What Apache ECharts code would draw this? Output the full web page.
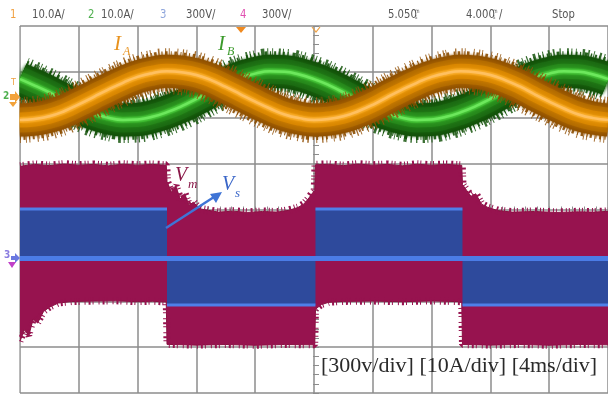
<!DOCTYPE html>
<html>
<head>
<meta charset="utf-8">
<script src="https://cdn.jsdelivr.net/npm/echarts/dist/echarts.min.js"></script>
<style>
  html, body { margin: 0; padding: 0; background: #fff; }
  #scope { width: 608px; height: 397px; }
</style>
</head>
<body>
<div id="scope"></div>
<script>
// ---- sampled traces (time in ms, 4 ms/div) ----
const timeMs = [0,1,2,3,4,5,6,7,8,9,10,11,12,13,14,15,16,17,18,19,20,
                21,22,23,24,25,26,27,28,29,30,31,32,33,34,35,36,37,38,39,40];

// phase currents, centre of the ripple band (A)
const iA = [-5.0,-4.8,-4.2,-3.1,-1.6,0.0,1.6,3.1,4.4,5.2,5.6,5.4,4.8,3.7,2.2,0.6,-1.0,-2.5,-3.8,-4.6,-5.0,
            -4.8,-4.2,-3.1,-1.7,0.0,1.6,3.1,4.4,5.2,5.6,5.4,4.8,3.7,2.3,0.6,-1.0,-2.5,-3.8,-4.6,-5.0];
const iB = [3.9,2.5,1.0,-0.7,-2.2,-3.6,-4.5,-5.0,-4.9,-4.3,-3.3,-2.0,-0.4,1.3,2.9,4.2,5.1,5.6,5.5,4.9,3.9,
            2.6,1.0,-0.7,-2.3,-3.6,-4.5,-5.0,-4.9,-4.3,-3.3,-2.0,-0.4,1.3,2.8,4.2,5.1,5.6,5.5,4.9,3.9];

// Vm PWM envelope (V): upper and lower edges of the switching band
const vmUpper = [[0,600],[1,612],[2,604],[3,614],[4,607],[5,612],[6,603],[7,613],[8,607],[9,612],[9.95,606],
  [10.0,500],[10.3,430],[10.6,470],[10.9,385],[11.2,420],[11.5,345],[11.8,365],[12.2,322],[12.8,312],
  [13.5,300],[14.5,306],[15.5,298],[16.5,304],[17.5,300],[18.3,312],[18.9,330],[19.3,352],[19.6,385],[19.9,425],[20.05,440],
  [20.1,610],[21,612],[22,604],[23,614],[24,607],[25,612],[26,603],[27,613],[28,607],[29,612],[30.05,606],
  [30.1,480],[30.4,440],[30.7,400],[31.0,420],[31.4,352],[31.8,332],[32.5,310],[33.5,300],[35,304],
  [36.5,298],[38,302],[39,300],[40,305]];
const vmLower = [[0,-545],[0.3,-470],[0.6,-505],[0.9,-400],[1.2,-425],[1.6,-350],[2.0,-322],[2.6,-295],
  [3.5,-285],[5,-282],[6.5,-280],[8,-286],[9,-283],[9.95,-288],
  [10.0,-565],[12,-570],[14,-566],[16,-571],[18,-566],[20.05,-568],
  [20.1,-335],[20.5,-305],[21,-290],[22,-284],[24,-282],[26,-286],[28,-281],[30.05,-286],
  [30.1,-566],[32,-570],[34,-566],[36,-571],[38,-566],[40,-568]];

// Vs switching levels (V); '-' separates the half cycles
const vsLevel = [[0,320],[10.0,320],[10.0,'-'],[10.0,-307],[20.1,-307],[20.1,'-'],
  [20.1,320],[30.1,320],[30.1,'-'],[30.1,-307],[40,-307]];

// scope header: channel numbers and their scales
const chNames  = ['1','2','3','4'];
const chScales = ['10.0A/','10.0A/','300V/','300V/'];
const timeHeader = ['5.050', '4.000'];

const chart = echarts.init(document.getElementById('scope'), null, { renderer: 'canvas' });

const gridGray = '#8c8c8c';
const hidden = { show: false };
const vmColor = '#97134f';

// one trace drawn as stacked strokes: ripple fringe, dark body, core glow
function band(data, yIdx, layers, zBase) {
  return layers.map((l, k) => ({
    type: 'line', data: data, yAxisIndex: yIdx, smooth: true, showSymbol: false, silent: true,
    z: zBase + k,
    lineStyle: {
      width: l.w, color: l.c, cap: 'butt', opacity: l.o == null ? 1 : l.o,
      type: l.dash || 'solid', shadowBlur: l.b || 0, shadowColor: l.c
    }
  }));
}

// switching ripple along an envelope edge
function fringe(data, width, dash) {
  return { type: 'line', data: data, yAxisIndex: 2, showSymbol: false, silent: true, z: 3,
    lineStyle: { width: width, color: vmColor, cap: 'butt', type: dash } };
}

const iAData = timeMs.map((t, i) => [t, iA[i]]);
const iBData = timeMs.map((t, i) => [t, iB[i]]);

const orangeLayers = [
  { w: 46, c: '#94530a', dash: [1, 4, 1, 2, 1, 6], o: 0.85 },
  { w: 40, c: '#8a4c00', dash: [1, 2, 2, 3], o: 0.9 },
  { w: 33, c: '#8f5000', b: 3 },
  { w: 25, c: '#b06a00', b: 5 },
  { w: 15, c: '#d88600', b: 6 },
  { w: 6, c: '#f3a010', b: 5 },
  { w: 2.5, c: '#ffc060', b: 3 }
];
const greenLayers = [
  { w: 46, c: '#17560e', dash: [1, 3, 1, 5, 2, 2], o: 0.85 },
  { w: 40, c: '#145209', dash: [2, 2, 1, 3], o: 0.9 },
  { w: 33, c: '#135009', b: 3 },
  { w: 25, c: '#1b6812', b: 5 },
  { w: 15, c: '#26861b', b: 6 },
  { w: 6, c: '#35b028', b: 5 },
  { w: 2.5, c: '#6ce85c', b: 3 }
];

const option = {
  animation: false,
  backgroundColor: '#ffffff',
  grid: { left: 20, top: 26, right: -4, bottom: 4 },
  xAxis: [
    { type: 'value', min: 0, max: 40, interval: 4,
      axisLine: hidden, axisTick: hidden, axisLabel: hidden,
      splitLine: { show: true, lineStyle: { color: gridGray, width: 1.5 } } },
    // tick rows on the horizontal centre line
    { type: 'value', min: 0, max: 40, interval: 4, position: 'bottom', offset: -183.5,
      axisLine: hidden, axisLabel: hidden, splitLine: hidden,
      axisTick: { show: true, inside: true, length: 3, lineStyle: { color: gridGray } },
      minorTick: { show: true, splitNumber: 5, length: 3, lineStyle: { color: gridGray } } },
    { type: 'value', min: 0, max: 40, interval: 4, position: 'bottom', offset: -183.5,
      axisLine: hidden, axisLabel: hidden, splitLine: hidden,
      axisTick: { show: true, inside: false, length: 3, lineStyle: { color: gridGray } },
      minorTick: { show: true, splitNumber: 5, length: 3, lineStyle: { color: gridGray } } }
  ],
  yAxis: [
    { type: 'value', min: 0, max: 8, interval: 1,
      axisLine: hidden, axisTick: hidden, axisLabel: hidden,
      splitLine: { show: true, lineStyle: { color: gridGray, width: 1.5 } } },
    // current axis, 10 A/div, zero on the CH1/CH2 marker
    { type: 'value', min: -64.52, max: 15.48, show: false },
    // voltage axis, 300 V/div, zero on the CH3/CH4 marker
    { type: 'value', min: -883, max: 1517, show: false },
    // tick columns on the vertical centre line
    { type: 'value', min: 0, max: 8, interval: 1, position: 'left', offset: -296,
      axisLine: hidden, axisLabel: hidden, splitLine: hidden,
      axisTick: { show: true, inside: true, length: 3, lineStyle: { color: gridGray } },
      minorTick: { show: true, splitNumber: 5, length: 3, lineStyle: { color: gridGray } } },
    { type: 'value', min: 0, max: 8, interval: 1, position: 'left', offset: -296,
      axisLine: hidden, axisLabel: hidden, splitLine: hidden,
      axisTick: { show: true, inside: false, length: 3, lineStyle: { color: gridGray } },
      minorTick: { show: true, splitNumber: 5, length: 3, lineStyle: { color: gridGray } } }
  ],
  series: [
    { type: 'line', name: 'Vm+', data: vmUpper, yAxisIndex: 2, showSymbol: false, silent: true, z: 3,
      lineStyle: { width: 1, color: '#86103f' }, areaStyle: { color: vmColor, opacity: 1 } },
    { type: 'line', name: 'Vm-', data: vmLower, yAxisIndex: 2, showSymbol: false, silent: true, z: 3,
      lineStyle: { width: 1, color: '#86103f' }, areaStyle: { color: vmColor, opacity: 1 } },
    fringe(vmUpper, 8, [1, 2, 1, 4, 2, 3]),
    fringe(vmLower, 7, [1, 3, 2, 2, 1, 5]),
    { type: 'line', name: 'Vs', data: vsLevel, yAxisIndex: 2, showSymbol: false, silent: true, z: 4,
      connectNulls: false,
      lineStyle: { width: 3, color: '#4f7fe8' }, areaStyle: { color: '#2e4a9c', opacity: 1 },
      markLine: { symbol: 'none', silent: true, label: { show: false },
        lineStyle: { color: '#4b7ce6', width: 5, type: 'solid' },
        data: [{ yAxis: 0 }] } }
  ].concat(band(iBData, 1, greenLayers, 10), band(iAData, 1, orangeLayers, 30)),
  graphic: []
};

chart.setOption(option);

// ---- header, channel markers and annotations ----
const hdrFont = '"Liberation Sans Narrow", "DejaVu Sans Condensed", "Liberation Sans", sans-serif';
const chColors = ['#f0a040', '#4fb04f', '#8fa6dc', '#e04fb0'];
const chX = [10, 88, 160, 240];
const scaleX = [32, 101, 186, 262];
const g = [];
function hdr(text, x, y, size, fill) {
  g.push({ type: 'text', x: x, y: y, scaleX: 0.86, z: 100,
    style: { text: text, fill: fill || '#555', font: size + 'px ' + hdrFont, textVerticalAlign: 'top' } });
}
// white margin left of the graticule, markers drawn on top of it
g.push({ type: 'rect', shape: { x: 0, y: 27, width: 19.2, height: 370 }, style: { fill: '#fff' }, z: 90 });
chNames.forEach((n, i) => {
  hdr(n, chX[i], 8, 13, chColors[i]);
  hdr(chScales[i], scaleX[i], 8, 13);
});
hdr(timeHeader[0], 388, 8, 13);
hdr('m', 415, 8, 6);
hdr('s', 415, 14, 6);
hdr(timeHeader[1], 466, 8, 13);
hdr('m', 493, 8, 6);
hdr('s', 493, 14, 6);
hdr('/', 499, 8, 13);
hdr('Stop', 552, 8, 13);

// ground markers placed on each channel's zero level
const yI0 = chart.convertToPixel({ yAxisIndex: 1 }, 0);
const yV0 = chart.convertToPixel({ yAxisIndex: 2 }, 0);
const mk = (o) => { o.z = 100; g.push(o); };
mk({ type: 'text', x: 11, y: yI0 - 19, style: { text: 'T', fill: '#f0a040', font: '9px ' + hdrFont } });
mk({ type: 'text', x: 3, y: yI0 - 6, style: { text: '2', fill: '#4fb04f', font: 'bold 10px ' + hdrFont } });
mk({ type: 'polygon', shape: { points: [[10, yI0 - 3], [15, yI0 - 3], [15, yI0 - 6], [20, yI0], [15, yI0 + 6], [15, yI0 + 3], [10, yI0 + 3]] }, style: { fill: '#f2a23a' } });
mk({ type: 'polygon', shape: { points: [[9, yI0 + 5], [17, yI0 + 5], [13, yI0 + 10]] }, style: { fill: '#f2a23a' } });
mk({ type: 'text', x: 4, y: yV0 - 8, style: { text: '3', fill: '#8a7ce0', font: 'bold 10px ' + hdrFont } });
mk({ type: 'polygon', shape: { points: [[11, yV0 - 2], [15, yV0 - 2], [15, yV0 - 5], [20, yV0], [15, yV0 + 5], [15, yV0 + 2], [11, yV0 + 2]] }, style: { fill: '#6a78e0' } });
mk({ type: 'polygon', shape: { points: [[8, yV0 + 4], [16, yV0 + 4], [12, yV0 + 10]] }, style: { fill: '#c040c8' } });

// trigger markers along the top edge
mk({ type: 'polygon', shape: { points: [[236, 27], [246, 27], [241, 33]] }, style: { fill: '#f08a20' } });
mk({ type: 'polyline', shape: { points: [[312, 27], [316, 32], [320, 27]] }, style: { stroke: '#f0a040', lineWidth: 1.2, fill: null } });

// waveform annotations
const serif = '"Liberation Serif", "DejaVu Serif", serif';
mk({ type: 'text', x: 114, y: 34, style: { text: 'I', fill: '#e8921e', font: 'italic 21px ' + serif } });
mk({ type: 'text', x: 123, y: 46, style: { text: 'A', fill: '#e8921e', font: 'italic 12px ' + serif } });
mk({ type: 'text', x: 218, y: 34, style: { text: 'I', fill: '#3b9a2b', font: 'italic 21px ' + serif } });
mk({ type: 'text', x: 227, y: 46, style: { text: 'B', fill: '#3b9a2b', font: 'italic 12px ' + serif } });
mk({ type: 'text', x: 175, y: 166, style: { text: 'V', fill: '#8a1848', font: 'italic 20px ' + serif } });
mk({ type: 'text', x: 188, y: 178, style: { text: 'm', fill: '#8a1848', font: 'italic 13px ' + serif } });
mk({ type: 'text', x: 222, y: 175, style: { text: 'V', fill: '#3a66c8', font: 'italic 20px ' + serif } });
mk({ type: 'text', x: 235, y: 187, style: { text: 's', fill: '#3a66c8', font: 'italic 13px ' + serif } });
mk({ type: 'line', shape: { x1: 166, y1: 228, x2: 214, y2: 197 }, style: { stroke: '#3f74d6', lineWidth: 2.5 } });
mk({ type: 'polygon', shape: { points: [[222, 192], [210, 194], [216, 203]] }, style: { fill: '#3f74d6' } });

mk({ type: 'text', x: 321, y: 355, style: { text: '[300v/div] [10A/div] [4ms/div]', fill: '#2a2a2a', font: '22px ' + serif } });

chart.setOption({ graphic: g });
</script>
</body>
</html>
